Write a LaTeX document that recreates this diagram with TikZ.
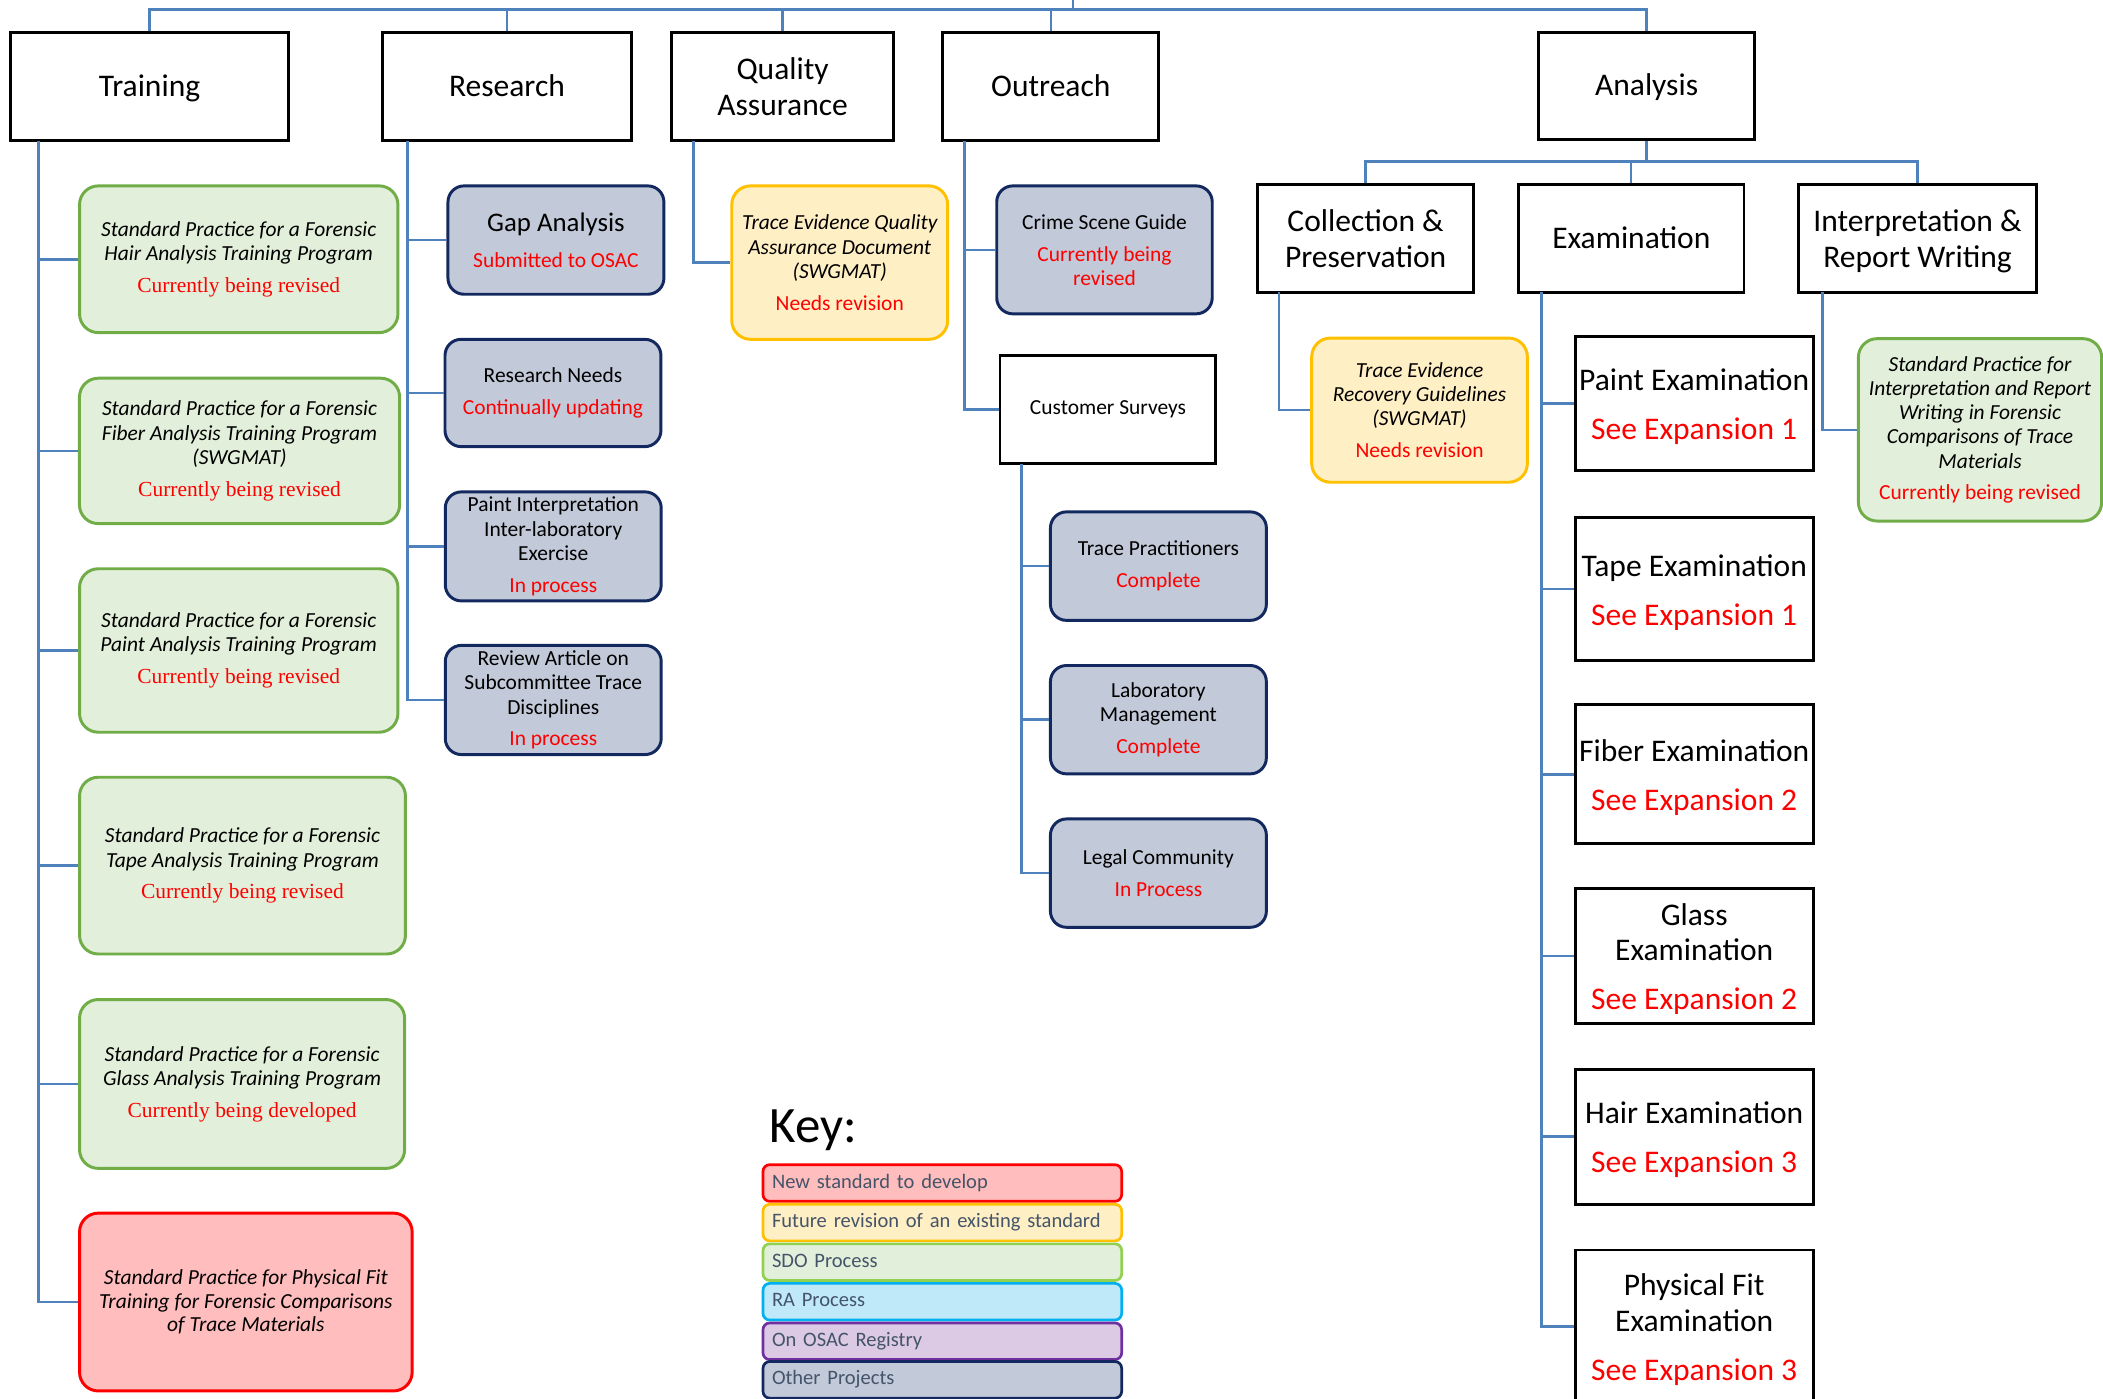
\documentclass[tikz,border=0pt]{standalone}
\usepackage{fontspec}
\setmainfont{Carlito}
\newfontfamily\tmsfont{Liberation Serif}
\usetikzlibrary{calc}
\definecolor{connC}{HTML}{4F81BD}
\definecolor{grnF}{HTML}{E2EFDA}
\definecolor{grnB}{HTML}{70AD47}
\definecolor{gryF}{HTML}{C2C9D9}
\definecolor{gryB}{HTML}{12285E}
\definecolor{ylwF}{HTML}{FFEFC4}
\definecolor{ylwB}{HTML}{FFC000}
\definecolor{redF}{HTML}{FFBDBD}
\definecolor{redB}{HTML}{FF0000}
\definecolor{blueF}{HTML}{BFE9F9}
\definecolor{blueB}{HTML}{00B0F0}
\definecolor{purF}{HTML}{DCCAE4}
\definecolor{purB}{HTML}{7030A0}
\definecolor{lgrnB}{HTML}{92D050}
\definecolor{keytxt}{HTML}{44546A}
\newcommand\redtx[1]{\textcolor{red}{\upshape #1}}
\newcommand\redserif[1]{\textcolor{red}{\upshape\tmsfont #1}}
\newcommand\exstrut{\rule{0pt}{21pt}}
\tikzset{
  conn/.style={draw=connC, line width=2pt},
  connT/.style={draw=connC, line width=1.7pt},
  hdr/.style={draw=black, line width=2.2pt, fill=white, inner sep=0pt, align=center,
    font=\fontsize{23.5}{26.7}\selectfont},
  oneline/.style={text height=14.5pt, text depth=0pt},
  exm/.style={hdr, minimum width=177.5pt, font=\fontsize{23.5}{26.5}\selectfont},
  rbox/.style={rounded corners=14pt, line width=2.2pt, inner sep=0pt, align=center,
    font=\fontsize{16}{18.1}\selectfont},
  grnbox/.style={rbox, draw=grnB, fill=grnF, font=\fontsize{16}{18.1}\selectfont\itshape},
  ylwbox/.style={rbox, draw=ylwB, fill=ylwF, font=\fontsize{16}{18.1}\selectfont\itshape},
  redbox/.style={rbox, draw=redB, fill=redF, font=\fontsize{16}{17.4}\selectfont\itshape},
  grybox/.style={rbox, rounded corners=12pt, draw=gryB, fill=gryF, minimum width=161pt},
  plain/.style={draw=black, line width=2.2pt, fill=white, inner sep=0pt, align=center,
    font=\fontsize{16}{18.1}\selectfont},
  leg/.style={rounded corners=5pt, line width=2pt, minimum height=27.3pt, text width=254pt,
    inner xsep=6.7pt, inner ysep=0pt, align=left, text height=11pt, text depth=3.4pt,
    font=\fontsize{15.3}{18}\selectfont, text=keytxt}
}
\begin{document}
\begin{tikzpicture}[x=1pt,y=-1pt]
\fill[white] (0,0) rectangle (1568,1043);
\useasboundingbox (0,0) rectangle (1568,1043);

% ---------- top level ----------
\node[hdr, oneline, minimum width=207pt, minimum height=81pt] (train) at (111.5,64.5) {Training};
\node[hdr, oneline, minimum width=186pt, minimum height=81pt] (research) at (378,64.5) {Research};
\node[hdr, minimum width=165pt, minimum height=81pt] (qa) at (583.5,64.5) {Quality\\Assurance};
\node[hdr, oneline, minimum width=161pt, minimum height=81pt] (outreach) at (783.5,64.5) {Outreach};
\node[hdr, oneline, minimum width=161.5pt, minimum height=80pt] (analysis) at (1227.7,64) {Analysis};

% ---------- analysis level 2 ----------
\node[hdr, minimum width=161.5pt, minimum height=80.5pt] (collection) at (1018.2,177.7) {Collection \&\\Preservation};
\node[hdr, oneline, minimum width=168pt, minimum height=80.5pt] (exam) at (1216.3,177.7) {Examination};
\node[hdr, text depth=0pt, minimum width=177.4pt, minimum height=80.5pt] (interp) at (1429.7,177.7) {Interpretation \&\\Report Writing};

% ---------- training children ----------
\node[grnbox, minimum width=237.4pt, minimum height=109.4pt] (hairT) at (178,193.3)
  {Standard Practice for a Forensic\\Hair Analysis Training Program\\[5.5pt]\redserif{Currently being revised}};
\node[grnbox, minimum width=238.7pt, minimum height=108.4pt] (fiberT) at (178.6,336.2)
  {Standard Practice for a Forensic\\Fiber Analysis Training Program\\(SWGMAT)\\[5.5pt]\redserif{Currently being revised}};
\node[grnbox, minimum width=237.4pt, minimum height=121.9pt] (paintT) at (178,485)
  {Standard Practice for a Forensic\\Paint Analysis Training Program\\[5.5pt]\redserif{Currently being revised}};
\node[grnbox, minimum width=243pt, minimum height=131.8pt] (tapeT) at (180.8,645.4)
  {Standard Practice for a Forensic\\Tape Analysis Training Program\\[5.5pt]\redserif{Currently being revised}};
\node[grnbox, minimum width=242.4pt, minimum height=125.9pt] (glassT) at (180.5,808.2)
  {Standard Practice for a Forensic\\Glass Analysis Training Program\\[5.5pt]\redserif{Currently being developed}};
\node[redbox, minimum width=248pt, minimum height=132.6pt] (physT) at (183.3,970.8)
  {Standard Practice for Physical Fit\\Training for Forensic Comparisons\\of Trace Materials};

% ---------- research children ----------
\node[grybox, minimum height=80.8pt] (gap) at (414.5,179)
  {{\fontsize{20}{24}\selectfont Gap Analysis}\\[8.7pt]\redtx{Submitted to OSAC}};
\node[grybox, minimum height=80pt] (needs) at (412.3,293)
  {Research Needs\\[5.5pt]\redtx{Continually updating}};
\node[grybox, minimum height=81.3pt] (paintI) at (412.5,407.4)
  {Paint Interpretation\\Inter-laboratory\\Exercise\\[5.5pt]\redtx{In process}};
\node[grybox, minimum height=81.4pt] (review) at (412.5,521.9)
  {Review Article on\\Subcommittee Trace\\Disciplines\\[5.5pt]\redtx{In process}};

% ---------- QA child ----------
\node[ylwbox, minimum width=161pt, minimum height=114.4pt] (qaDoc) at (626.1,195.8)
  {Trace Evidence Quality\\Assurance Document\\(SWGMAT)\\[5.5pt]\redtx{Needs revision}};

% ---------- outreach children ----------
\node[grybox, minimum width=160.7pt, minimum height=95.4pt] (crime) at (823.5,186.3)
  {Crime Scene Guide\\[5.9pt]\redtx{Currently being}\\\redtx{revised}};
\node[plain, minimum width=161pt, minimum height=80.8pt] (custsurv) at (826.1,305.4) {Customer Surveys};
\node[grybox, minimum height=80.9pt] (tracep) at (863.7,422.1)
  {Trace Practitioners\\[5.5pt]\redtx{Complete}};
\node[grybox, minimum height=80.8pt] (labm) at (863.7,536.6)
  {Laboratory\\Management\\[5.5pt]\redtx{Complete}};
\node[grybox, minimum height=80.8pt] (legal) at (863.7,651)
  {Legal Community\\[5.5pt]\redtx{In Process}};

% ---------- collection / interp children ----------
\node[ylwbox, minimum width=160.8pt, minimum height=107.5pt] (terDoc) at (1058.4,305.8)
  {Trace Evidence\\Recovery Guidelines\\(SWGMAT)\\[5.5pt]\redtx{Needs revision}};
\node[grnbox, minimum width=181.4pt, minimum height=136pt] (interpS) at (1476.3,320.5)
  {Standard Practice for\\Interpretation and Report\\Writing in Forensic\\Comparisons of Trace\\Materials\\[5.5pt]\redtx{Currently being revised}};

% ---------- examination children ----------
\node[exm, minimum height=100pt] (paintx) at (1263.2,301) {\exstrut Paint Examination\\[10pt]\redtx{See Expansion 1}};
\node[exm, minimum height=106.4pt] (tapex) at (1263.2,439.2) {\exstrut Tape Examination\\[10pt]\redtx{See Expansion 1}};
\node[exm, minimum height=103.7pt] (fiberx) at (1263.2,577.3) {\exstrut Fiber Examination\\[10pt]\redtx{See Expansion 2}};
\node[exm, minimum height=101pt] (glassx) at (1263.2,712.8) {\exstrut Glass\\Examination\\[10pt]\redtx{See Expansion 2}};
\node[exm, minimum height=101pt] (hairx) at (1263.2,847.6) {\exstrut Hair Examination\\[10pt]\redtx{See Expansion 3}};
\node[exm, minimum height=114pt] (physx) at (1263.2,989) {\exstrut Physical Fit\\Examination\\[10pt]\redtx{See Expansion 3}};

% ---------- connectors: top ----------
\coordinate (top) at (800,7);
\coordinate (rootend) at (800,-2);
\draw[connT] (rootend) -- (top);
\draw[connT] (train.north) |- (top) -| (analysis.north);
\draw[connT] (research.north) -- (research.north |- top);
\draw[connT] (qa.north) -- (qa.north |- top);
\draw[connT] (outreach.north) -- (outreach.north |- top);

% analysis level 2
\coordinate (a2) at (1227.7,120.5);
\draw[connT] (analysis.south) -- (a2);
\draw[connT] (collection.north) |- (a2) -| (interp.north);
\draw[connT] (exam.north) -- (exam.north |- a2);

% training trunk
\coordinate (trT) at (28.7,105);
\draw[conn] (trT) |- (physT.west);
\foreach \n in {hairT,fiberT,paintT,tapeT,glassT}{\draw[conn] (trT |- \n.west) -- (\n.west);}

% research trunk
\coordinate (resT) at (304,105);
\draw[conn] (resT) |- (review.west);
\foreach \n in {gap,needs,paintI}{\draw[conn] (resT |- \n.west) -- (\n.west);}

% QA trunk
\coordinate (qaT) at (517.2,105);
\draw[conn] (qaT) |- (qaDoc.west);

% outreach trunk
\coordinate (ouT) at (719.2,105);
\draw[conn] (ouT) |- (custsurv.west);
\draw[conn] (ouT |- crime.west) -- (crime.west);

% customer surveys trunk
\coordinate (csT) at (761.6,345.8);
\draw[conn] (csT) |- (legal.west);
\foreach \n in {tracep,labm}{\draw[conn] (csT |- \n.west) -- (\n.west);}

% collection trunk
\coordinate (coT) at (953.6,218);
\draw[conn] (coT) |- (terDoc.west);

% examination trunk
\coordinate (exT) at (1149.3,218);
\draw[conn] (exT) |- (physx.west);
\foreach \n in {paintx,tapex,fiberx,glassx,hairx}{\draw[conn] (exT |- \n.west) -- (\n.west);}

% interpretation trunk
\coordinate (inT) at (1358.8,218);
\draw[conn] (inT) |- (interpS.west);

% ---------- key ----------
\node[anchor=base west, inner sep=0pt, font=\fontsize{38}{40}\selectfont] (key) at (573.5,851.7) {Key:};
\node[leg, draw=redB, fill=redF] (k1) at (702.6,882.05) {New standard to develop};
\node[leg, draw=ylwB, fill=ylwF] (k2) at (702.6,911.55) {Future revision of an existing standard};
\node[leg, draw=lgrnB, fill=grnF] (k3) at (702.6,941.05) {SDO Process};
\node[leg, draw=blueB, fill=blueF] (k4) at (702.6,970.55) {RA Process};
\node[leg, draw=purB, fill=purF] (k5) at (702.6,1000.05) {On OSAC Registry};
\node[leg, draw=gryB, fill=gryF] (k6) at (702.6,1028.8) {Other Projects};
\end{tikzpicture}
\end{document}
